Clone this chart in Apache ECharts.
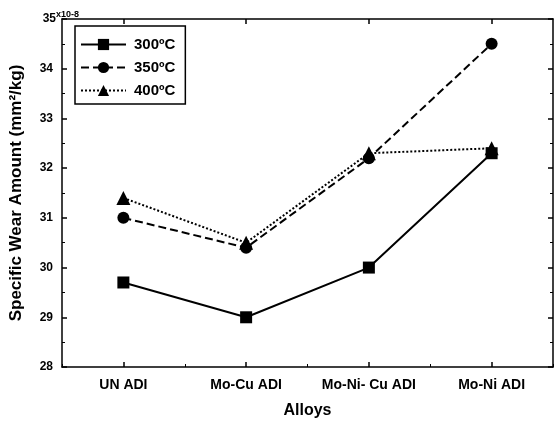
<!DOCTYPE html>
<html><head><meta charset="utf-8">
<script src="https://cdn.jsdelivr.net/npm/echarts@6/dist/echarts.min.js"></script>
<style>html,body{margin:0;padding:0;background:#fff}#c{width:556px;height:428px}</style>
</head><body><div id="c"></div>
<script>
var categories = ['UN ADI', 'Mo-Cu ADI', 'Mo-Ni- Cu ADI', 'Mo-Ni ADI'];
var s300 = [29.7, 29.0, 30.0, 32.3];
var s350 = [31.0, 30.4, 32.2, 34.5];
var s400 = [31.4, 30.5, 32.3, 32.4];
var seriesNames = ['300\u00baC', '350\u00baC', '400\u00baC'];
var yMin = 28, yMax = 35, yStep = 1;

var F = 'Liberation Sans, Arial, sans-serif';
var chart = echarts.init(document.getElementById('c'));
var tickIn = {show: true, inside: true, length: 5, lineStyle: {color: '#000', width: 1.5}};
var minorIn = {show: true, splitNumber: 2, length: 3, lineStyle: {color: '#000', width: 1}};
function ser(name, data, sym, type) {
  return {
    name: name, type: 'line', data: data, symbol: sym, symbolSize: sym === 'triangle' ? 14 : 12,
    lineStyle: {color: '#000', width: 2, type: type}, itemStyle: {color: '#000'},
    xAxisIndex: 0, yAxisIndex: 0, animation: false
  };
}
chart.setOption({
  animation: false,
  grid: {left: 62, right: 3, top: 19, bottom: 61, containLabel: false},
  legend: {
    orient: 'vertical', left: 75, top: 26, data: seriesNames,
    borderColor: '#000', borderWidth: 1.5, padding: [11, 10, 6, 5], itemGap: 8,
    itemWidth: 45, itemHeight: 14,
    textStyle: {fontFamily: F, fontWeight: 'bold', fontSize: 15, color: '#000', padding: [0, 0, 0, 3]}
  },
  xAxis: [
    {type: 'category', data: categories, position: 'bottom', boundaryGap: true,
     axisLine: {lineStyle: {color: '#000', width: 1.5}},
     axisTick: {show: true, inside: true, alignWithLabel: true, length: 5, lineStyle: {color: '#000', width: 1.5}},
     axisLabel: {fontFamily: F, fontWeight: 'bold', fontSize: 14, color: '#000', margin: 11},
     name: 'Alloys', nameLocation: 'middle', nameGap: 36,
     nameTextStyle: {fontFamily: F, fontWeight: 'bold', fontSize: 16, color: '#000'}},
    {type: 'category', data: categories, position: 'bottom', boundaryGap: true,
     axisLine: {show: false}, axisLabel: {show: false},
     axisTick: {show: true, inside: true, length: 3, lineStyle: {color: '#000', width: 1}}},
    {type: 'category', data: categories, position: 'top', boundaryGap: true,
     axisLine: {show: true, lineStyle: {color: '#000', width: 1.5}}, axisLabel: {show: false},
     axisTick: {show: true, inside: true, alignWithLabel: true, length: 5, lineStyle: {color: '#000', width: 1.5}}}
  ],
  yAxis: [
    {type: 'value', min: yMin, max: yMax, interval: yStep,
     axisLine: {show: true, lineStyle: {color: '#000', width: 1.5}},
     axisTick: tickIn, minorTick: minorIn, splitLine: {show: false},
     axisLabel: {fontFamily: F, fontWeight: 'bold', fontSize: 12, color: '#000', margin: 9,
       formatter: function (v) { return v === 35 ? '35{s|x10-8}' : String(v); },
       rich: {s: {fontFamily: F, fontSize: 9, fontWeight: 'bold', color: '#000', verticalAlign: 'top', padding: [0, -26, 8, 0]}}},
     name: 'Specific Wear Amount (mm\u00b2/kg)', nameLocation: 'middle', nameGap: 37, nameRotate: 90,
     nameTextStyle: {fontFamily: F, fontWeight: 'bold', fontSize: 17, color: '#000'}},
    {type: 'value', min: yMin, max: yMax, interval: yStep, position: 'right',
     axisLine: {show: true, lineStyle: {color: '#000', width: 1.5}},
     axisTick: tickIn, minorTick: minorIn, splitLine: {show: false}, axisLabel: {show: false}}
  ],
  series: [
    ser(seriesNames[0], s300, 'rect', 'solid'),
    ser(seriesNames[1], s350, 'circle', 'dashed'),
    ser(seriesNames[2], s400, 'triangle', 'dotted')
  ]
});
</script></body></html>
